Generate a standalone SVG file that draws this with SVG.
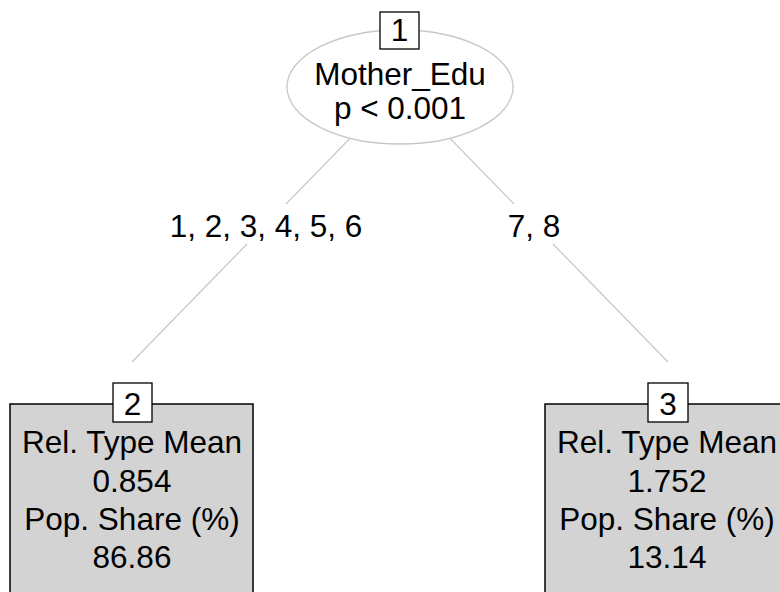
<svg xmlns="http://www.w3.org/2000/svg" width="780" height="592" viewBox="0 0 780 592">
  <style>
    text { font-family: "Liberation Sans", Arial, sans-serif; font-size: 31.5px; fill: #000; text-anchor: middle; }
    .edge { stroke: #c8c8c8; stroke-width: 1.3; fill: none; }
    .inner { fill: #fff; stroke: #c8c8c8; stroke-width: 1.3; }
    .leaf { fill: #d3d3d3; stroke: #000; stroke-width: 1.5; }
    .idbox { fill: #fff; stroke: #000; stroke-width: 1.3; }
    .lblbg { fill: #fff; stroke: none; }
  </style>
  <rect x="0" y="0" width="780" height="592" fill="#fff"/>

  <!-- split edges -->
  <g id="edges">
    <line class="edge" x1="400" y1="87" x2="132" y2="362"/>
    <line class="edge" x1="400" y1="87" x2="668" y2="362"/>
    <rect class="lblbg" x="166" y="204" width="200" height="40"/>
    <text x="266" y="237">1, 2, 3, 4, 5, 6</text>
    <rect class="lblbg" x="504" y="204" width="60" height="40"/>
    <text x="534" y="237">7, 8</text>
  </g>

  <!-- inner node 1 -->
  <g id="node1">
    <ellipse class="inner" cx="400" cy="87" rx="113" ry="57"/>
    <rect class="idbox" x="380" y="12" width="39" height="37"/>
    <text x="399.5" y="41">1</text>
    <text x="400" y="85">Mother_Edu</text>
    <text x="400" y="119">p &lt; 0.001</text>
  </g>

  <!-- terminal node 2 -->
  <g id="node2">
    <rect class="leaf" x="10" y="404" width="243" height="200"/>
    <rect class="idbox" x="113" y="383" width="39" height="39"/>
    <text x="132.5" y="415">2</text>
    <text x="132" y="453">Rel. Type Mean</text>
    <text x="132" y="492">0.854</text>
    <text x="132" y="530">Pop. Share (%)</text>
    <text x="132" y="568">86.86</text>
  </g>

  <!-- terminal node 3 -->
  <g id="node3">
    <rect class="leaf" x="545" y="404" width="244" height="200"/>
    <rect class="idbox" x="648" y="383" width="40" height="39"/>
    <text x="668" y="415">3</text>
    <text x="667" y="453">Rel. Type Mean</text>
    <text x="667" y="492">1.752</text>
    <text x="667" y="530">Pop. Share (%)</text>
    <text x="667" y="568">13.14</text>
  </g>
</svg>
